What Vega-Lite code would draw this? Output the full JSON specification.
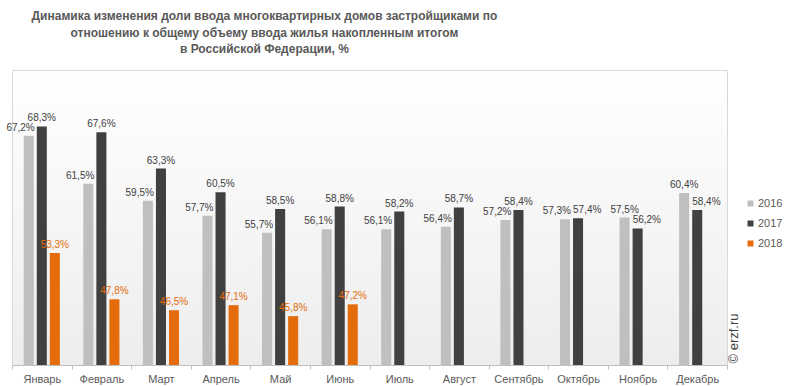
{
  "$schema": "https://vega.github.io/schema/vega-lite/v6.json",
  "width": 715,
  "height": 295,
  "autosize": "none",
  "padding": {"left": 12, "top": 70, "right": 58, "bottom": 21},
  "background": "#ffffff",
  "title": {
    "text": ["Динамика  изменения доли ввода многоквартирных  домов застройщиками по", "отношению к общему объему ввода жилья накопленным  итогом", "в Российской Федерации, %"],
    "anchor": "start",
    "align": "center",
    "dx": 258,
    "offset": 14,
    "font": "Liberation Sans",
    "fontSize": 12,
    "fontWeight": "bold",
    "color": "#595959",
    "lineHeight": 16.5
  },
  "config": {
    "font": "Liberation Sans",
    "view": {
      "stroke": "#d9d9d9",
      "fill": {"gradient": "linear", "x1": 0, "y1": 0, "x2": 0, "y2": 1, "stops": [{"offset": 0, "color": "#ffffff"}, {"offset": 1, "color": "#ededed"}]}
    }
  },
  "data": {
    "values": [
      {"month": "Январь", "year": "2016", "value": 67.2},
      {"month": "Январь", "year": "2017", "value": 68.3},
      {"month": "Январь", "year": "2018", "value": 53.3},
      {"month": "Февраль", "year": "2016", "value": 61.5},
      {"month": "Февраль", "year": "2017", "value": 67.6},
      {"month": "Февраль", "year": "2018", "value": 47.8},
      {"month": "Март", "year": "2016", "value": 59.5},
      {"month": "Март", "year": "2017", "value": 63.3},
      {"month": "Март", "year": "2018", "value": 46.5},
      {"month": "Апрель", "year": "2016", "value": 57.7},
      {"month": "Апрель", "year": "2017", "value": 60.5},
      {"month": "Апрель", "year": "2018", "value": 47.1},
      {"month": "Май", "year": "2016", "value": 55.7},
      {"month": "Май", "year": "2017", "value": 58.5},
      {"month": "Май", "year": "2018", "value": 45.8},
      {"month": "Июнь", "year": "2016", "value": 56.1},
      {"month": "Июнь", "year": "2017", "value": 58.8},
      {"month": "Июнь", "year": "2018", "value": 47.2},
      {"month": "Июль", "year": "2016", "value": 56.1},
      {"month": "Июль", "year": "2017", "value": 58.2},
      {"month": "Август", "year": "2016", "value": 56.4},
      {"month": "Август", "year": "2017", "value": 58.7},
      {"month": "Сентябрь", "year": "2016", "value": 57.2},
      {"month": "Сентябрь", "year": "2017", "value": 58.4},
      {"month": "Октябрь", "year": "2016", "value": 57.3},
      {"month": "Октябрь", "year": "2017", "value": 57.4},
      {"month": "Ноябрь", "year": "2016", "value": 57.5},
      {"month": "Ноябрь", "year": "2017", "value": 56.2},
      {"month": "Декабрь", "year": "2016", "value": 60.4},
      {"month": "Декабрь", "year": "2017", "value": 58.4}
    ]
  },
  "transform": [
    {"calculate": "replace(format(datum.value, '.1f'), '.', ',') + '%'", "as": "label"}
  ],
  "encoding": {
    "x": {
      "field": "month",
      "type": "nominal",
      "sort": ["Январь", "Февраль", "Март", "Апрель", "Май", "Июнь", "Июль", "Август", "Сентябрь", "Октябрь", "Ноябрь", "Декабрь"],
      "scale": {"paddingInner": 0, "paddingOuter": 0},
      "axis": {
        "title": null,
        "labelAngle": 0,
        "tickBand": "extent",
        "domainColor": "#bfbfbf",
        "tickColor": "#bfbfbf",
        "tickSize": 4,
        "labelColor": "#595959",
        "labelFontSize": 11,
        "labelPadding": 4
      }
    },
    "xOffset": {
      "field": "year",
      "type": "nominal",
      "scale": {"domain": ["2016", "2017", "2018"], "paddingInner": 0.23, "paddingOuter": 0.9}
    },
    "y": {
      "field": "value",
      "type": "quantitative",
      "scale": {"domain": [40, 75], "nice": false, "zero": false},
      "axis": {
        "orient": "right",
        "domain": false,
        "labels": false,
        "ticks": false,
        "grid": false,
        "title": "© erzf.ru",
        "titleAngle": 270,
        "titleX": 6,
        "titleY": 293,
        "titleAlign": "left",
        "titleBaseline": "middle",
        "titleFont": "Liberation Sans",
        "titleFontSize": 13,
        "titleFontWeight": "normal",
        "titleColor": "#404040"
      }
    }
  },
  "layer": [
    {
      "mark": {"type": "bar"},
      "encoding": {
        "y2": {"datum": 40},
        "color": {
          "field": "year",
          "type": "nominal",
          "scale": {"domain": ["2016", "2017", "2018"], "range": ["#bfbfbf", "#404040", "#e46c0a"]},
          "legend": {
            "title": null,
            "orient": "none",
            "legendX": 733,
            "legendY": 128,
            "symbolType": "square",
            "symbolSize": 36,
            "symbolStrokeWidth": 0,
            "labelFontSize": 11,
            "labelColor": "#595959",
            "labelOffset": 2,
            "rowPadding": 8,
            "padding": 0
          }
        }
      }
    },
    {
      "transform": [{"filter": "datum.year == '2016' && indexof(['Ноябрь','Декабрь'], datum.month) < 0"}],
      "mark": {"type": "text", "align": "right", "baseline": "bottom", "dx": 6, "dy": -3, "fontSize": 10, "color": "#404040"},
      "encoding": {"text": {"field": "label"}}
    },
    {
      "transform": [{"filter": "datum.year == '2017' && indexof(['Октябрь','Ноябрь','Декабрь'], datum.month) >= 0"}],
      "mark": {"type": "text", "align": "left", "baseline": "bottom", "dx": -5, "dy": -3, "fontSize": 10, "color": "#404040"},
      "encoding": {"text": {"field": "label"}}
    },
    {
      "transform": [{"filter": "(datum.year == '2016' && indexof(['Ноябрь','Декабрь'], datum.month) >= 0) || (datum.year == '2017' && indexof(['Октябрь','Ноябрь','Декабрь'], datum.month) < 0) || datum.year == '2018'"}],
      "mark": {"type": "text", "align": "center", "baseline": "bottom", "dy": -3, "fontSize": 10},
      "encoding": {
        "text": {"field": "label"},
        "color": {"condition": {"test": "datum.year == '2018'", "value": "#e46c0a"}, "value": "#404040"}
      }
    }
  ]
}
